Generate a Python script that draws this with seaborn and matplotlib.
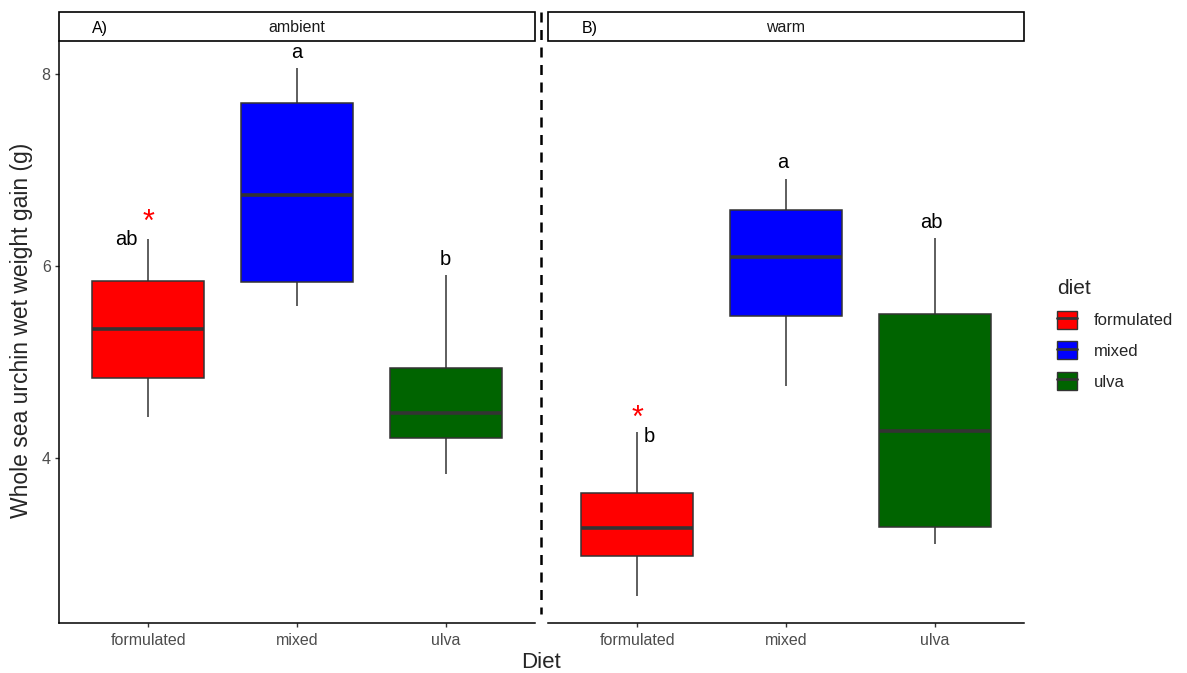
import pandas as pd
import matplotlib.pyplot as plt
import matplotlib.patches as mpatches
from matplotlib.lines import Line2D
from matplotlib.legend_handler import HandlerTuple
import seaborn as sns

# ---------------------------------
# Data (five values per group)
# ---------------------------------

diets = ["formulated", "mixed", "ulva"]
temps = ["ambient", "warm"]
panel_tags = ["A)", "B)"]
colors = ["#FF0000", "#0000FF", "#006400"]

ambient_formulated = [4.42, 4.83, 5.34, 5.84, 6.28]
ambient_mixed = [5.58, 5.83, 6.74, 7.69, 8.06]
ambient_ulva = [3.83, 4.21, 4.47, 4.93, 5.90]
warm_formulated = [2.56, 2.98, 3.27, 3.63, 4.27]
warm_mixed = [4.75, 5.48, 6.09, 6.58, 6.90]
warm_ulva = [3.10, 3.28, 4.28, 5.50, 6.29]

# letters: (temp, x position, y, text, colour)
letters = [
    ("ambient", -0.15, 6.27, "ab", "black"),
    ("ambient", 0.0, 6.45, "*", "red"),
    ("ambient", 1.0, 8.22, "a", "black"),
    ("ambient", 2.0, 6.07, "b", "black"),
    ("warm", 0.0, 4.40, "*", "red"),
    ("warm", 0.08, 4.22, "b", "black"),
    ("warm", 0.98, 7.08, "a", "black"),
    ("warm", 1.98, 6.45, "ab", "black"),
]

rows = []
groups = {
    ("ambient", "formulated"): ambient_formulated,
    ("ambient", "mixed"): ambient_mixed,
    ("ambient", "ulva"): ambient_ulva,
    ("warm", "formulated"): warm_formulated,
    ("warm", "mixed"): warm_mixed,
    ("warm", "ulva"): warm_ulva,
}
for (t, d), vals in groups.items():
    for v in vals:
        rows.append({"temp": t, "diet": d, "gain": v})
df = pd.DataFrame(rows)

# ---------------------------------
# Plot
# ---------------------------------

sns.set_theme(style="white")
plt.rcParams["font.family"] = ["Liberation Sans", "DejaVu Sans"]

fig = plt.figure(figsize=(11.87, 6.73), dpi=100)
W, H = 1187, 673
bottom = (H - 623) / H
height = (623 - 41) / H
ax1 = fig.add_axes([59 / W, bottom, 476 / W, height])
ax2 = fig.add_axes([548 / W, bottom, 476 / W, height])
axes = [ax1, ax2]

palette = dict(zip(diets, colors))

for ax, t, tag in zip(axes, temps, panel_tags):
    sns.boxplot(
        data=df[df["temp"] == t],
        x="diet",
        y="gain",
        hue="diet",
        order=diets,
        hue_order=diets,
        palette=palette,
        width=0.75,
        linecolor="#333333",
        linewidth=1.1,
        whis=1.5,
        showfliers=False,
        showcaps=False,
        saturation=1,
        medianprops=dict(linewidth=2.6, color="#333333"),
        legend=False,
        ax=ax,
    )
    ax.set_xlim(-0.6, 2.6)
    ax.set_ylim(2.28, 8.34)
    ax.set_xlabel("")
    ax.set_ylabel("")
    for s in ["top", "right"]:
        ax.spines[s].set_visible(False)
    ax.spines["bottom"].set_color("black")
    ax.spines["bottom"].set_linewidth(1.1)
    ax.tick_params(axis="x", length=3, width=1, color="#333333",
                   labelsize=11.5, labelcolor="#4D4D4D", bottom=True, pad=4)

    # strip
    ax.add_patch(mpatches.Rectangle(
        (0, 1), 1, 29 / 582, transform=ax.transAxes, clip_on=False,
        facecolor="white", edgecolor="black", linewidth=1.2))
    ax.text(0.5, 1 + 13 / 582, t, transform=ax.transAxes,
            ha="center", va="center", fontsize=11.5, color="#1A1A1A")
    ax.text(0.087, 1 + 13 / 582, tag, transform=ax.transAxes,
            ha="center", va="center", fontsize=11.5, color="black")

    for lt, x, y, s, c in letters:
        if lt == t:
            ax.text(x, y, s, ha="center", va="center",
                    fontsize=22 if s == "*" else 14.5, color=c)

ax1.set_yticks([4, 6, 8])
ax1.tick_params(axis="y", length=3, width=1, color="#333333",
                labelsize=11.5, labelcolor="#4D4D4D", left=True, pad=3)
ax1.spines["left"].set_color("black")
ax1.spines["left"].set_linewidth(1.1)

ax2.spines["left"].set_visible(False)
ax2.set_yticks([])

# dashed divider
fig.add_artist(Line2D([541 / W, 541 / W], [(H - 12) / H, (H - 614) / H],
                      transform=fig.transFigure, color="black",
                      linestyle=(0, (4, 3)), linewidth=1.8))

# axis titles
fig.text(541 / W, (H - 662) / H, "Diet", ha="center", va="center", fontsize=16)
fig.text(22 / W, (H - 330) / H, "Whole sea urchin wet weight gain (g)",
         ha="center", va="center", rotation=90, fontsize=16.5)

# legend
handles = [(mpatches.Patch(facecolor=c, edgecolor="#333333"),
            Line2D([], [], color="#333333", linewidth=2))
           for c in colors]
leg = fig.legend(handles=handles, labels=diets, title="diet", loc="upper left",
                 bbox_to_anchor=(1042 / W, (H - 264) / H), frameon=False,
                 fontsize=12, title_fontsize=15, handlelength=1.2,
                 handleheight=1.3, labelspacing=0.75, handletextpad=1.0,
                 handler_map={tuple: HandlerTuple(ndivide=1)})
leg._legend_box.align = "left"

fig.savefig("out.png", dpi=100)
